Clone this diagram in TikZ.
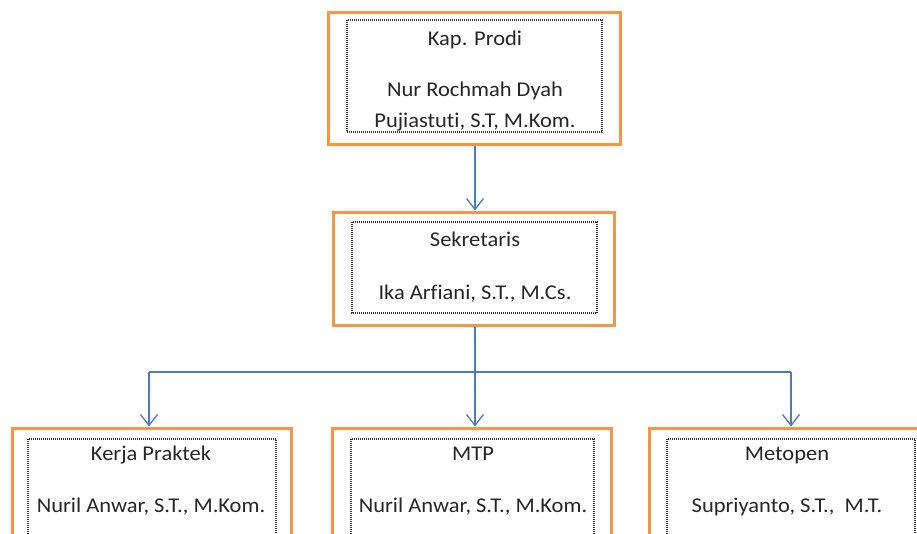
\documentclass[tikz,border=0pt]{standalone}
\usepackage{fontspec}
\setmainfont{Carlito}[FakeStretch=1.07, Ligatures=NoCommon]
\usetikzlibrary{arrows.meta}
\definecolor{orgline}{HTML}{F79646}
\definecolor{arrblue}{HTML}{4A7EBB}
\tikzset{
  outerbox/.style={draw=orgline, line width=3pt},
  innerbox/.style={draw=black!80, line width=1.3pt, dash pattern=on 1pt off 1pt},
  lbl/.style={anchor=base, inner sep=0pt, font=\fontsize{21}{25}\selectfont, text=black!85},
  conn/.style={draw=arrblue, line width=1.3pt},
  arr/.style={conn, -{Straight Barb[length=11pt,width=17pt,line width=1.3pt]}}
}
\begin{document}
\begin{tikzpicture}[x=1pt,y=-1pt]
\useasboundingbox (0,0) rectangle (917,533);
\clip (0,0) rectangle (917,533);
% boxes
\draw[outerbox] (328,12) rectangle (620,144);
\draw[innerbox] (347,20) rectangle (602,132);
\draw[outerbox] (333,212) rectangle (614,325);
\draw[innerbox] (352,222) rectangle (597,313);
\draw[outerbox] (12,428) rectangle (291,560);
\draw[innerbox] (28,439) rectangle (276,560);
\draw[outerbox] (332,428) rectangle (611,560);
\draw[innerbox] (351,439) rectangle (594,560);
\draw[outerbox] (649,428) rectangle (930,560);
\draw[innerbox] (667,439) rectangle (915,560);
% anchor coordinates
\coordinate (kapb) at (475,145.5);
\coordinate (sekt) at (475,210.5);
\coordinate (sekb) at (475,326.5);
\coordinate (split) at (475,372);
\coordinate (lt) at (149,372);
\coordinate (rt) at (791,372);
\coordinate (kpt) at (149,426.5);
\coordinate (mtpt) at (475,426.5);
\coordinate (mett) at (791,426.5);
% texts
\node[lbl] (t1) at (475,45) {Kap. Prodi};
\node[lbl] (t2) at (475,96) {Nur Rochmah Dyah};
\node[lbl] (t3) at (475,127) {Pujiastuti, S.T, M.Kom.};
\node[lbl] (t4) at (475,246) {Sekretaris};
\node[lbl] (t5) at (475,299) {Ika Arfiani, S.T., M.Cs.};
\node[lbl] (t6) at (151,460) {Kerja Praktek};
\node[lbl] (t7) at (151,512) {Nuril Anwar, S.T., M.Kom.};
\node[lbl] (t8) at (473,460) {MTP};
\node[lbl] (t9) at (473,512) {Nuril Anwar, S.T., M.Kom.};
\node[lbl] (t10) at (787,460) {Metopen};
\node[lbl] (t11) at (787,512) {Supriyanto, S.T.,\ \ M.T.};
% connectors
\draw[arr] (kapb) -- (sekt);
\draw[conn] (sekb) -- (split);
\draw[conn] (lt) -- (rt);
\draw[arr] (lt) -- (kpt);
\draw[arr] (split) -- (mtpt);
\draw[arr] (rt) -- (mett);
\end{tikzpicture}
\end{document}
